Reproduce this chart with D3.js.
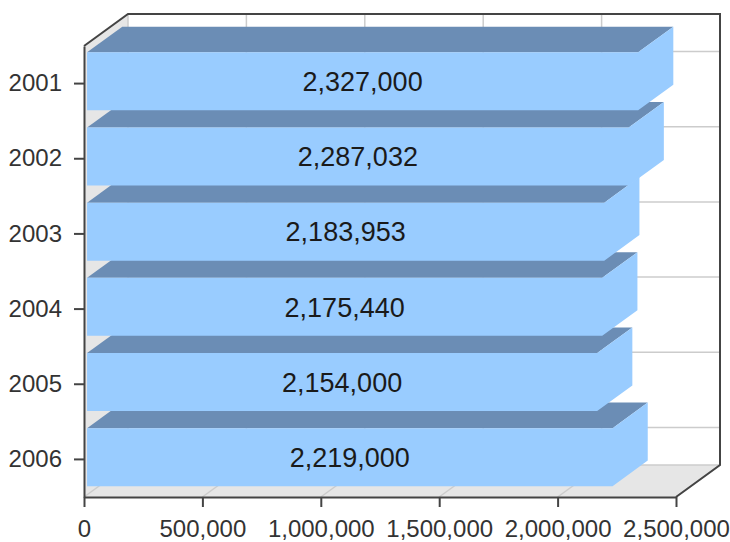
<!DOCTYPE html>
<html>
<head>
<meta charset="utf-8">
<script src="https://cdn.jsdelivr.net/npm/d3@7"></script>
<style>
  body { margin: 0; background: #fff; }
  svg text { font-family: "Liberation Sans", Arial, sans-serif; }
</style>
</head>
<body>
<svg id="chart"></svg>
<script>
const years = ["2001", "2002", "2003", "2004", "2005", "2006"];
const values = [2327000, 2287032, 2183953, 2175440, 2154000, 2219000];
const xTicks = [0, 500000, 1000000, 1500000, 2000000, 2500000];

const width = 730;
const height = 542;
const plotLeft = 84, plotRight = 676, plotTop = 46, plotBottom = 497;
// depth of the 3d box
const DX = 44, DY = 32;
// bars sit between these depth fractions
const z0 = 0.07, z1 = 0.87;

const svg = d3.select("#chart").attr("width", width).attr("height", height);

const xScale = d3.scaleLinear().domain([0, 2500000]).range([plotLeft, plotRight]);
const yScale = d3.scaleBand().domain(years).range([plotTop, plotBottom])
  .paddingInner(0.228).paddingOuter(0.114);

const p = (x, y, z) => [x + z * DX, y - z * DY];
const poly = (pts) => pts.map(d => d.join(",")).join(" ");

// left wall and floor
svg.append("polygon")
  .attr("points", poly([p(plotLeft, plotTop, 0), p(plotLeft, plotTop, 1), p(plotLeft, plotBottom, 1), p(plotLeft, plotBottom, 0)]))
  .attr("fill", "#e6e6e6");
svg.append("polygon")
  .attr("points", poly([p(plotLeft, plotBottom, 0), p(plotLeft, plotBottom, 1), p(plotRight, plotBottom, 1), p(plotRight, plotBottom, 0)]))
  .attr("fill", "#e6e6e6");

// back wall grid
const grid = svg.append("g").attr("stroke", "#cccccc").attr("stroke-width", 1.5);
xTicks.forEach(t => {
  const a = p(xScale(t), plotTop, 1), b = p(xScale(t), plotBottom, 1), c = p(xScale(t), plotBottom, 0);
  grid.append("line").attr("x1", a[0]).attr("y1", a[1]).attr("x2", b[0]).attr("y2", b[1]);
  grid.append("line").attr("x1", b[0]).attr("y1", b[1]).attr("x2", c[0]).attr("y2", c[1]);
});
years.forEach(y => {
  const yc = yScale(y) + yScale.bandwidth() / 2;
  const a = p(plotLeft, yc, 1), b = p(plotRight, yc, 1);
  grid.append("line").attr("x1", a[0]).attr("y1", a[1]).attr("x2", b[0]).attr("y2", b[1]);
});
{
  const a = p(plotLeft, plotBottom, 1), b = p(plotRight, plotBottom, 1);
  grid.append("line").attr("x1", a[0]).attr("y1", a[1]).attr("x2", b[0]).attr("y2", b[1]);
}

// bars, drawn bottom first so upper bars cover the top faces below them
const rows = years.map((y, i) => ({ year: y, value: values[i] })).reverse();
const bars = svg.append("g");
rows.forEach(d => {
  const x0 = xScale(0), x1 = xScale(d.value);
  const y0 = yScale(d.year), y1 = y0 + yScale.bandwidth();
  const g = bars.append("g");
  // top face
  g.append("polygon")
    .attr("points", poly([p(x0, y0, z0), p(x0, y0, z1), p(x1, y0, z1), p(x1, y0, z0)]))
    .attr("fill", "#6b8db5");
  // front + right side share one colour, drawn as one shape so no seam shows
  g.append("polygon")
    .attr("points", poly([p(x0, y0, z0), p(x1, y0, z0), p(x1, y0, z1), p(x1, y1, z1), p(x1, y1, z0), p(x0, y1, z0)]))
    .attr("fill", "#99ccff");
  const c = p((x0 + x1) / 2, (y0 + y1) / 2, z0);
  g.append("text")
    .attr("x", c[0]).attr("y", c[1])
    .attr("dy", "0.36em")
    .attr("text-anchor", "middle")
    .attr("font-size", 27)
    .attr("fill", "#1a1a1a")
    .text(d3.format(",")(d.value));
});

// frame
const frame = svg.append("g").attr("stroke", "#444").attr("stroke-width", 2).attr("fill", "none");
frame.append("polyline")
  .attr("points", poly([p(plotLeft, plotTop, 0), p(plotLeft, plotTop, 1), p(plotRight, plotTop, 1), p(plotRight, plotBottom, 1), p(plotRight, plotBottom, 0)]));

// axes
const xAxis = d3.axisBottom(xScale).tickValues(xTicks).tickFormat(d3.format(","))
  .tickSize(10).tickPadding(13).tickSizeOuter(0);
const yAxis = d3.axisLeft(yScale).tickSize(10).tickPadding(12).tickSizeOuter(0);

const gx = svg.append("g").attr("transform", "translate(0," + plotBottom + ")").call(xAxis);
const gy = svg.append("g").attr("transform", "translate(" + plotLeft + ",0)").call(yAxis);

[gx, gy].forEach(g => {
  g.select(".domain").attr("stroke", "#444").attr("stroke-width", 2);
  g.selectAll(".tick line").attr("stroke", "#444").attr("stroke-width", 2);
  g.selectAll(".tick text")
    .attr("font-size", 24)
    .attr("fill", "#333")
    .style("font-family", "'Liberation Sans', Arial, sans-serif");
});
</script>
</body>
</html>
